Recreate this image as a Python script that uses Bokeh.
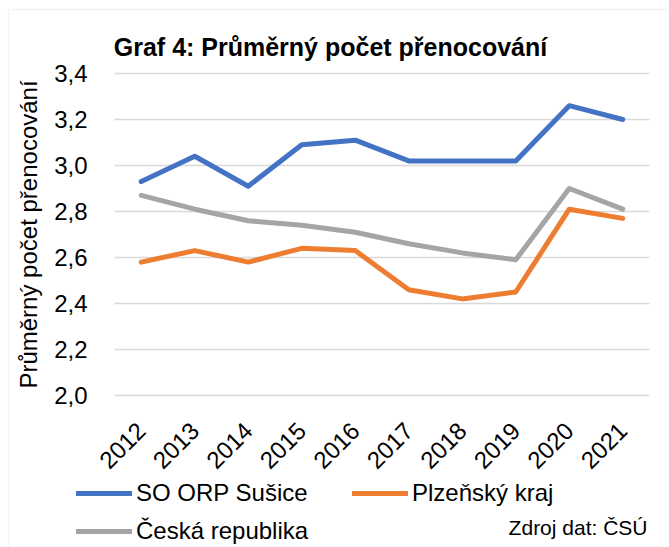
import math
from bokeh.plotting import figure
from bokeh.models import (Range1d, FixedTicker, CustomJSTickFormatter, LinearAxis,
                          Label, Legend, LegendItem, ColumnDataSource, BoxAnnotation)
from bokeh.embed import file_html
from bokeh.resources import INLINE

# ---- data ----
years = [2012, 2013, 2014, 2015, 2016, 2017, 2018, 2019, 2020, 2021]
so_orp_susice = [2.93, 3.04, 2.91, 3.09, 3.11, 3.02, 3.02, 3.02, 3.26, 3.20]
plzensky_kraj = [2.58, 2.63, 2.58, 2.64, 2.63, 2.46, 2.42, 2.45, 2.81, 2.77]
ceska_republika = [2.87, 2.81, 2.76, 2.74, 2.71, 2.66, 2.62, 2.59, 2.90, 2.81]
y_ticks = [2.0, 2.2, 2.4, 2.6, 2.8, 3.0, 3.2, 3.4]

# ---- layout (pixels on the canvas) ----
W, H = 669, 547
BAND_L, BAND_R = 114, 649      # left / right edge of the category band
Y_TOP_PX, Y_BOT_PX = 73, 395   # pixel of y_ticks[-1] / y_ticks[0]
step = (BAND_R - BAND_L) / len(years)
x0_px = BAND_L + step / 2
x_start = years[0] + (0 - x0_px) / step
x_end = years[0] + (W - x0_px) / step
k = (Y_BOT_PX - Y_TOP_PX) / (y_ticks[-1] - y_ticks[0])
y_start = y_ticks[0] - (H - Y_BOT_PX) / k
y_end = y_ticks[0] + Y_BOT_PX / k

FONT = "Liberation Sans"

p = figure(width=W, height=H, x_range=Range1d(x_start, x_end), y_range=Range1d(y_start, y_end),
           x_axis_location=None, y_axis_location=None,
           output_backend="svg", toolbar_location=None, min_border=0)
p.outline_line_color = None
p.xgrid.visible = False
p.ygrid.visible = False
p.background_fill_color = "white"
p.border_fill_color = "white"

# chart border (gray, left and top visible)
p.add_layout(BoxAnnotation(left=8, right=W + 20, top=H - 9, bottom=-20,
                           left_units="screen", right_units="screen",
                           top_units="screen", bottom_units="screen",
                           fill_alpha=0, line_color="#d9d9d9", line_width=1.5))

# horizontal gridlines across the category band
grid_src = ColumnDataSource(dict(y=y_ticks,
                                 x0=[years[0] - 0.5] * len(y_ticks),
                                 x1=[years[-1] + 0.5] * len(y_ticks)))
p.segment(x0="x0", x1="x1", y0="y", y1="y", source=grid_src,
          line_color="#d9d9d9", line_width=1.5)

# axes drawn at fixed locations
yaxis = LinearAxis(fixed_location=years[0] - 0.5, bounds=(y_ticks[0], y_ticks[-1]),
                   ticker=FixedTicker(ticks=y_ticks),
                   formatter=CustomJSTickFormatter(code="return tick.toFixed(1).replace('.', ',');"))
xaxis = LinearAxis(fixed_location=y_ticks[0], bounds=(years[0] - 0.5, years[-1] + 0.5),
                   ticker=FixedTicker(ticks=years),
                   formatter=CustomJSTickFormatter(code="return tick.toFixed(0);"))
for ax in (xaxis, yaxis):
    ax.axis_line_color = None
    ax.major_tick_line_color = None
    ax.minor_tick_line_color = None
    ax.major_label_text_font = FONT
    ax.major_label_text_font_size = "24px"
    ax.major_label_text_color = "#000000"
yaxis.major_label_standoff = 21
xaxis.major_label_standoff = 25
xaxis.major_label_orientation = math.pi / 4
yaxis.axis_label = "Průměrný počet přenocování"
yaxis.axis_label_text_font = FONT
yaxis.axis_label_text_font_size = "24px"
yaxis.axis_label_text_font_style = "normal"
yaxis.axis_label_text_color = "#000000"
yaxis.axis_label_standoff = 9
p.add_layout(yaxis, "left")
p.add_layout(xaxis, "below")

r1 = p.line(years, so_orp_susice, line_color="#4472C4", line_width=5, line_join="round", line_cap="round")
r2 = p.line(years, plzensky_kraj, line_color="#ED7D31", line_width=5, line_join="round", line_cap="round")
r3 = p.line(years, ceska_republika, line_color="#A5A5A5", line_width=5, line_join="round", line_cap="round")

def make_legend(items, loc):
    return Legend(items=items, location=loc, orientation="vertical",
                  border_line_color=None, background_fill_alpha=0,
                  padding=0, margin=0, spacing=8,
                  glyph_width=56, glyph_height=20, label_height=30,
                  label_standoff=4,
                  label_text_font=FONT, label_text_font_size="24px",
                  label_text_color="#000000")

p.add_layout(make_legend([LegendItem(label="SO ORP Sušice", renderers=[r1]),
                          LegendItem(label="Česká republika", renderers=[r3])], (76, 1)))
p.add_layout(make_legend([LegendItem(label="Plzeňský kraj", renderers=[r2])], (352, 39)))

p.add_layout(Label(x=330, y=H - 46, x_units="screen", y_units="screen",
                   text="Graf 4: Průměrný počet přenocování",
                   text_font=FONT, text_font_size="25px", text_font_style="bold",
                   text_align="center", text_baseline="middle", text_color="#000000"))
p.add_layout(Label(x=647, y=H - 527, x_units="screen", y_units="screen",
                   text="Zdroj dat: ČSÚ",
                   text_font=FONT, text_font_size="21px",
                   text_align="right", text_baseline="middle", text_color="#000000"))

open("out.html", "w").write(file_html(p, INLINE))
